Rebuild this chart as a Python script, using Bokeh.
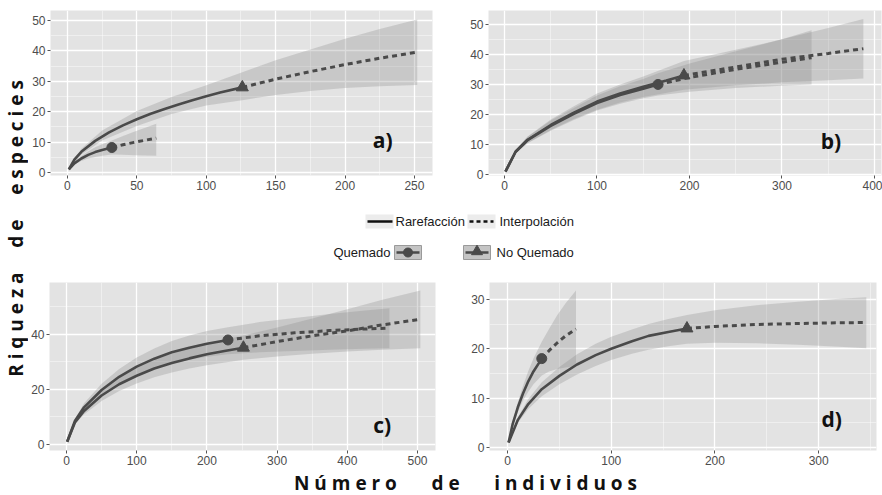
import numpy as np
from bokeh.plotting import figure
from bokeh.models import Range1d, FixedTicker, Label
from bokeh.layouts import row, column
from bokeh.embed import file_html
from bokeh.resources import INLINE
from bokeh.core.properties import value

# ---------------- data ----------------
# panel a
a_q_rare_x = [1, 5, 10, 15, 20, 25, 32]
a_q_rare_y = [1, 3.0, 4.6, 5.8, 6.7, 7.4, 8.2]
a_q_ext_x = [32, 40, 48, 56, 64]
a_q_ext_y = [8.2, 9.1, 9.9, 10.6, 11.3]
a_q_band_x = [1, 5, 10, 15, 20, 25, 32, 40, 48, 56, 64]
a_q_band_lo = [1, 2.6, 3.8, 4.6, 5.1, 5.5, 5.9, 5.8, 5.7, 5.6, 5.5]
a_q_band_hi = [1, 3.4, 5.4, 7.0, 8.3, 9.3, 10.5, 12.0, 13.4, 14.7, 16.0]
a_n_rare_x = [1, 5, 10, 20, 30, 40, 50, 60, 70, 80, 90, 100, 110, 126]
a_n_rare_y = [1, 4.2, 6.8, 10.4, 13.2, 15.5, 17.5, 19.3, 20.9, 22.4, 23.8, 25.1, 26.3, 28.0]
a_n_ext_x = [126, 150, 175, 200, 225, 252]
a_n_ext_y = [28.0, 30.7, 33.2, 35.5, 37.6, 39.6]
a_n_band_x = [1, 10, 25, 50, 75, 100, 126, 150, 175, 200, 225, 252]
a_n_band_lo = [1, 5.8, 10.5, 15.3, 19.2, 22.0, 23.8, 25.5, 26.8, 27.8, 28.4, 28.8]
a_n_band_hi = [1, 7.8, 13.8, 20.2, 24.8, 28.7, 33.0, 36.9, 40.5, 44.0, 47.2, 50.3]

# panel b
b_q_rare_x = [1, 12, 25, 50, 75, 100, 125, 150, 166]
b_q_rare_y = [1, 7.6, 11.5, 16.2, 20.2, 23.8, 26.5, 28.6, 30.0]
b_q_ext_x = [166, 200, 250, 300, 332]
b_q_ext_y = [30.0, 32.3, 35.0, 37.4, 38.9]
b_q_band_x = [1, 12, 25, 50, 75, 100, 125, 150, 166, 200, 250, 300, 332]
b_q_band_lo = [1, 7.0, 10.4, 14.6, 18.2, 21.3, 23.6, 25.4, 26.3, 27.6, 28.8, 29.6, 30.0]
b_q_band_hi = [1, 8.2, 12.6, 18.0, 22.2, 26.3, 29.4, 31.8, 33.7, 37.0, 41.0, 45.0, 48.0]
b_n_rare_x = [1, 12, 25, 50, 75, 100, 125, 150, 175, 194]
b_n_rare_y = [1, 7.6, 11.6, 16.5, 20.6, 24.3, 27.0, 29.2, 31.3, 33.0]
b_n_ext_x = [194, 250, 300, 350, 388]
b_n_ext_y = [33.0, 35.8, 38.4, 40.3, 41.9]
b_n_band_x = [1, 12, 25, 50, 75, 100, 125, 150, 194, 250, 300, 350, 388]
b_n_band_lo = [1, 7.0, 10.5, 14.8, 18.5, 21.6, 24.0, 25.8, 28.2, 29.7, 30.7, 31.4, 32.0]
b_n_band_hi = [1, 8.2, 12.7, 18.3, 22.7, 27.0, 30.0, 32.6, 37.8, 41.5, 45.0, 48.8, 51.8]

# panel c
c_q_rare_x = [1, 12, 25, 50, 75, 100, 125, 150, 175, 200, 230]
c_q_rare_y = [1, 8.5, 13.5, 19.8, 24.6, 28.3, 31.2, 33.5, 35.2, 36.6, 38.0]
c_q_ext_x = [230, 275, 325, 375, 425, 460]
c_q_ext_y = [38.0, 39.5, 40.6, 41.4, 42.0, 42.3]
c_q_band_x = [1, 12, 25, 50, 75, 100, 125, 150, 175, 200, 230, 275, 325, 375, 425, 460]
c_q_band_lo = [1, 7.8, 12.0, 17.5, 21.8, 25.0, 27.5, 29.4, 30.8, 31.9, 32.8, 33.5, 34.0, 34.4, 34.8, 35.0]
c_q_band_hi = [1, 9.2, 15.0, 22.1, 27.4, 31.6, 34.9, 37.6, 39.6, 41.3, 42.6, 44.5, 46.0, 47.4, 48.7, 49.5]
c_n_rare_x = [1, 12, 25, 50, 75, 100, 125, 150, 175, 200, 225, 252]
c_n_rare_y = [1, 8.0, 12.2, 17.8, 21.9, 25.0, 27.6, 29.6, 31.3, 32.8, 34.0, 35.2]
c_n_ext_x = [252, 300, 350, 400, 450, 504]
c_n_ext_y = [35.2, 37.4, 39.5, 41.3, 43.5, 45.5]
c_n_band_x = [1, 12, 25, 50, 75, 100, 125, 150, 175, 200, 252, 300, 350, 400, 450, 504]
c_n_band_lo = [1, 7.4, 10.9, 15.8, 19.4, 22.2, 24.4, 26.2, 27.6, 28.8, 30.8, 32.0, 33.0, 33.8, 34.4, 35.0]
c_n_band_hi = [1, 8.6, 13.5, 19.8, 24.4, 27.8, 30.8, 33.0, 35.0, 36.8, 39.6, 42.5, 45.8, 49.2, 52.6, 56.0]

# panel d
d_q_rare_x = [1, 5, 10, 15, 20, 25, 33]
d_q_rare_y = [1, 4.8, 8.2, 11.0, 13.4, 15.4, 18.0]
d_q_ext_x = [33, 40, 48, 56, 66]
d_q_ext_y = [18.0, 19.6, 21.2, 22.6, 24.0]
d_q_band_x = [1, 5, 10, 15, 20, 25, 33, 40, 48, 56, 66]
d_q_band_lo = [1, 4.3, 7.2, 9.5, 11.3, 12.8, 14.6, 15.4, 15.9, 16.2, 16.5]
d_q_band_hi = [1, 5.3, 9.2, 12.5, 15.5, 18.0, 21.4, 24.0, 26.8, 29.2, 31.8]
d_n_rare_x = [1, 10, 20, 33, 50, 67, 85, 100, 120, 136, 155, 173]
d_n_rare_y = [1, 5.6, 8.8, 11.8, 14.5, 16.8, 18.7, 20.0, 21.5, 22.6, 23.4, 24.1]
d_n_ext_x = [173, 200, 240, 280, 320, 346]
d_n_ext_y = [24.1, 24.5, 24.9, 25.1, 25.25, 25.3]
d_n_band_x = [1, 10, 20, 33, 50, 67, 85, 100, 120, 136, 155, 173, 200, 240, 280, 320, 346]
d_n_band_lo = [1, 5.0, 7.8, 10.4, 12.8, 14.8, 16.5, 17.7, 19.0, 19.8, 20.5, 21.0, 21.2, 21.1, 20.8, 20.4, 20.1]
d_n_band_hi = [1, 6.2, 9.8, 13.2, 16.3, 18.9, 21.0, 22.4, 23.9, 25.0, 26.0, 26.8, 27.8, 28.8, 29.5, 30.1, 30.4]

# ticks
a_xticks = [0, 50, 100, 150, 200, 250]
a_yticks = [0, 10, 20, 30, 40, 50]
b_xticks = [0, 100, 200, 300, 400]
b_yticks = [0, 10, 20, 30, 40, 50]
c_xticks = [0, 100, 200, 300, 400, 500]
c_yticks = [0, 20, 40]
d_xticks = [0, 100, 200, 300]
d_yticks = [0, 10, 20, 30]

panel_labels = ["a)", "b)", "c)", "d)"]
legend_line_labels = ["Rarefacción", "Interpolación"]
legend_group_labels = ["Quemado", "No Quemado"]
x_title = "Número de individuos"
y_title = "Riqueza de especies"

# ---------------- style ----------------
BG = "#e3e3e3"
BAND = "#8c8c8c"
LINE = "#4a4a4a"
TICKFONT = "Liberation Sans"
TITLEFONT = "Open Sans"


def minors(ticks):
    step = ticks[1] - ticks[0]
    return [t + step / 2 for t in [ticks[0] - step] + ticks]


def panel(width, height, xr, yr, xticks, yticks, borders, label, lab_xy, groups):
    l, r, t, b = borders
    p = figure(width=width, height=height, x_range=Range1d(*xr), y_range=Range1d(*yr),
               output_backend="svg", toolbar_location=None,
               min_border_left=l, min_border_right=r, min_border_top=t, min_border_bottom=b)
    p.background_fill_color = BG
    p.border_fill_color = "white"
    p.outline_line_color = None
    for ax, grid, ticks in ((p.xaxis[0], p.xgrid[0], xticks), (p.yaxis[0], p.ygrid[0], yticks)):
        tk = FixedTicker(ticks=ticks, minor_ticks=minors(ticks))
        ax.ticker = tk
        grid.ticker = tk
        ax.axis_line_color = None
        ax.major_tick_line_color = "#555555"
        ax.major_tick_in = 0
        ax.major_tick_out = 3
        ax.minor_tick_line_color = None
        ax.major_label_text_font = TICKFONT
        ax.major_label_text_font_size = "12px"
        ax.major_label_text_color = "#4d4d4d"
        ax.major_label_standoff = 1
        grid.grid_line_color = "white"
        grid.grid_line_width = 1.3
        grid.minor_grid_line_color = "white"
        grid.minor_grid_line_alpha = 0.6
        grid.minor_grid_line_width = 0.7
    for g in groups:
        p.varea(x=g["bx"], y1=g["lo"], y2=g["hi"], fill_color=BAND, fill_alpha=0.3)
    for g in groups:
        p.line(g["rx"], g["ry"], line_color=LINE, line_width=2.6)
        p.line(g["ex"], g["ey"], line_color=LINE, line_width=3, line_dash="5 4")
        p.scatter([g["rx"][-1]], [g["ry"][-1]], marker=g["marker"], size=g["size"],
                  fill_color=LINE, line_color=LINE)
    p.add_layout(Label(x=lab_xy[0], y=lab_xy[1], text=label, text_font=TITLEFONT,
                       text_font_style="bold", text_font_size="21px", text_color="#111111",
                       text_baseline="alphabetic"))
    return p


def grp(rx, ry, ex, ey, bx, lo, hi, marker):
    return dict(rx=rx, ry=ry, ex=ex, ey=ey, bx=bx, lo=lo, hi=hi, marker=marker,
                size=10 if marker == "circle" else 12)


# page layout (page origin at top-left, page is 882 x 495)
YW = 28  # width of the y-title strip
pa = panel(456 - YW, 200, (-12.2, 263), (-1.0, 53.3), a_xticks, a_yticks, (50 - YW, 24, 10, 25),
           panel_labels[0], (220, 10.6),
           [grp(a_n_rare_x, a_n_rare_y, a_n_ext_x, a_n_ext_y, a_n_band_x, a_n_band_lo, a_n_band_hi, "triangle"),
            grp(a_q_rare_x, a_q_rare_y, a_q_ext_x, a_q_ext_y, a_q_band_x, a_q_band_lo, a_q_band_hi, "circle")])
pb = panel(426, 200, (-17.3, 407.6), (-0.3, 54.6), b_xticks, b_yticks, (32, 1, 8, 25),
           panel_labels[1], (342, 11.2),
           [grp(b_q_rare_x, b_q_rare_y, b_q_ext_x, b_q_ext_y, b_q_band_x, b_q_band_lo, b_q_band_hi, "circle"),
            grp(b_n_rare_x, b_n_rare_y, b_n_ext_x, b_n_ext_y, b_n_band_x, b_n_band_lo, b_n_band_hi, "triangle")])
pc = panel(456 - YW, 203, (-24.2, 525.6), (-2.2, 58.9), c_xticks, c_yticks, (49 - YW, 21, 16, 19),
           panel_labels[2], (437, 6.9),
           [grp(c_q_rare_x, c_q_rare_y, c_q_ext_x, c_q_ext_y, c_q_band_x, c_q_band_lo, c_q_band_hi, "circle"),
            grp(c_n_rare_x, c_n_rare_y, c_n_ext_x, c_n_ext_y, c_n_band_x, c_n_band_lo, c_n_band_hi, "triangle")])
pd = panel(426, 203, (-17.4, 355.8), (-0.6, 33.4), d_xticks, d_yticks, (33, 6, 16, 18),
           panel_labels[3], (302.8, 5.8),
           [grp(d_q_rare_x, d_q_rare_y, d_q_ext_x, d_q_ext_y, d_q_band_x, d_q_band_lo, d_q_band_hi, "circle"),
            grp(d_n_rare_x, d_n_rare_y, d_n_ext_x, d_n_ext_y, d_n_band_x, d_n_band_lo, d_n_band_hi, "triangle")])


def blank(width, height, xr, yr):
    f = figure(width=width, height=height, x_range=Range1d(*xr), y_range=Range1d(*yr),
               output_backend="svg", toolbar_location=None, x_axis_type=None, y_axis_type=None,
               min_border_left=0, min_border_right=0, min_border_top=0, min_border_bottom=0)
    f.outline_line_color = None
    f.background_fill_color = "white"
    f.border_fill_color = "white"
    f.grid.visible = False
    return f


def spaced(s, gap=1, word_gap=4):
    nb = "\u00a0"
    words = s.split(" ")
    return (nb * word_gap).join((nb * gap).join(list(w)) for w in words)


# y title (page coordinates: x 0..YW, y 0..495)
ylab = blank(YW, 495, (0, YW), (495, 0))
ylab.text(x=[15], y=[228], text=[spaced(y_title, 1, 5)], angle=np.pi / 2, text_align="center",
          text_baseline="middle", text_font=value(TITLEFONT), text_font_style="bold",
          text_font_size="19px", text_color="#111111")

# legend (page coordinates: x YW..882, y 200..266)
leg = blank(882 - YW, 66, (YW, 882), (266, 200))
leg.quad(left=[365, 467], right=[393, 495], top=[214, 214], bottom=[228, 228],
         fill_color="#ececec", line_color=None)
leg.line([367, 392], [221, 221], line_color="#111111", line_width=2.5)
leg.line([469, 493], [221, 221], line_color="#111111", line_width=2.5, line_dash="4 3")
leg.text(x=[395, 499], y=[221, 221], text=legend_line_labels, text_align="left",
         text_baseline="middle", text_font=value(TICKFONT), text_font_size="13px",
         text_color="#1a1a1a")
leg.quad(left=[394, 463], right=[421, 490], top=[245, 245], bottom=[259, 259],
         fill_color="#c4c4c4", line_color="#9a9a9a", line_width=1)
leg.line([396, 419], [252, 252], line_color=LINE, line_width=2.5)
leg.line([465, 488], [252, 252], line_color=LINE, line_width=2.5)
leg.scatter([407.5], [252], marker="circle", size=9, fill_color=LINE, line_color=LINE)
leg.scatter([476.5], [251], marker="triangle", size=11, fill_color=LINE, line_color=LINE)
leg.text(x=[390], y=[252], text=[legend_group_labels[0]], text_align="right",
         text_baseline="middle", text_font=value(TICKFONT), text_font_size="13px",
         text_color="#1a1a1a")
leg.text(x=[496], y=[252], text=[legend_group_labels[1]], text_align="left",
         text_baseline="middle", text_font=value(TICKFONT), text_font_size="13px",
         text_color="#1a1a1a")

# x title (page coordinates: x YW..882, y 469..495)
xlab = blank(882 - YW, 26, (YW, 882), (495, 469))
xlab.text(x=[465], y=[482], text=[spaced(x_title, 1, 7)], text_align="center",
          text_baseline="middle", text_font=value(TITLEFONT), text_font_style="bold",
          text_font_size="19px", text_color="#111111")

layout = row(ylab, column(row(pa, pb), leg, row(pc, pd), xlab))

open("out.html", "w").write(file_html(layout, INLINE))
